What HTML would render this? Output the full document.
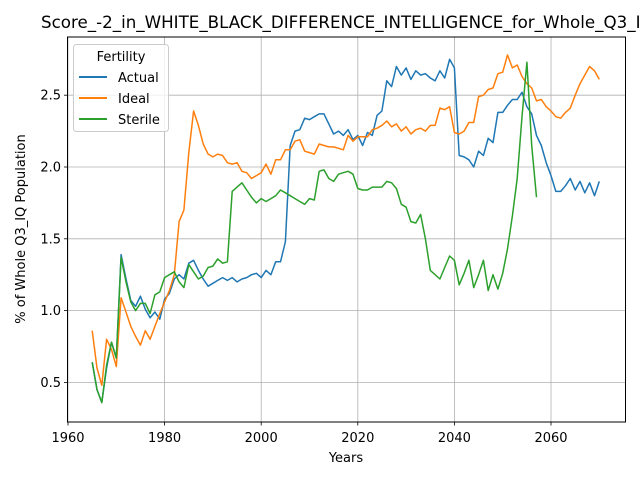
<!DOCTYPE html>
<html><head><meta charset="utf-8"><style>
body{margin:0;background:#fff;}
svg{font-family:"DejaVu Sans","Liberation Sans",sans-serif;}
</style></head><body>
<svg id="chart" width="640" height="480" xmlns="http://www.w3.org/2000/svg">
<rect width="640" height="480" fill="#fff"/>
<g id="grid"></g>
<g id="series"></g>
<rect x="67.5" y="37" width="558" height="385" fill="none" stroke="#000" stroke-width="1"/>
<g id="ticks" font-size="13" fill="#000"></g>
<text x="41" y="28" text-anchor="start" font-size="16.7">Score_-2_in_WHITE_BLACK_DIFFERENCE_INTELLIGENCE_for_Whole_Q3_IQ Population</text>
<text x="346" y="462" text-anchor="middle" font-size="13">Years</text>
<text transform="translate(25,229) rotate(-90)" text-anchor="middle" font-size="13">% of Whole Q3_IQ Population</text>
<g>
<rect x="73.5" y="44.5" width="95" height="87" rx="3" fill="#fff" fill-opacity="0.8" stroke="#ccc"/>
<text x="121" y="61" text-anchor="middle" font-size="13">Fertility</text>
<g><line x1="79" x2="107" y1="77" y2="77" stroke="#1f77b4" stroke-width="2"/><text x="118" y="82" font-size="13">Actual</text></g>
<g><line x1="79" x2="107" y1="98" y2="98" stroke="#ff7f0e" stroke-width="2"/><text x="118" y="103" font-size="13">Ideal</text></g>
<g><line x1="79" x2="107" y1="119" y2="119" stroke="#2ca02c" stroke-width="2"/><text x="118" y="124" font-size="13">Sterile</text></g>
</g>
</svg>
<script>
const startYear = 1965;
const actual = [0.64,0.45,0.36,0.6,0.78,0.67,1.39,1.22,1.07,1.03,1.10,1.01,0.95,0.99,0.94,1.08,1.12,1.22,1.25,1.22,1.33,1.35,1.28,1.22,1.17,1.19,1.21,1.23,1.21,1.23,1.20,1.22,1.23,1.25,1.26,1.23,1.28,1.25,1.34,1.34,1.48,2.15,2.25,2.26,2.34,2.33,2.35,2.37,2.37,2.30,2.23,2.25,2.22,2.26,2.19,2.22,2.15,2.24,2.22,2.36,2.39,2.60,2.56,2.70,2.64,2.69,2.61,2.67,2.64,2.65,2.62,2.60,2.67,2.62,2.75,2.69,2.08,2.07,2.05,2.00,2.11,2.08,2.20,2.17,2.38,2.38,2.43,2.47,2.47,2.52,2.42,2.37,2.22,2.15,2.03,1.94,1.83,1.83,1.87,1.92,1.84,1.90,1.82,1.89,1.80,1.90];
const ideal = [0.86,0.60,0.48,0.80,0.73,0.61,1.09,0.99,0.89,0.82,0.76,0.86,0.80,0.89,0.98,1.06,1.14,1.25,1.62,1.70,2.10,2.39,2.29,2.16,2.09,2.07,2.09,2.08,2.03,2.02,2.03,1.97,1.96,1.92,1.94,1.96,2.02,1.95,2.05,2.05,2.12,2.12,2.18,2.19,2.11,2.10,2.09,2.16,2.15,2.14,2.14,2.13,2.12,2.22,2.18,2.21,2.21,2.21,2.26,2.27,2.29,2.32,2.28,2.30,2.25,2.28,2.23,2.26,2.27,2.25,2.29,2.29,2.41,2.40,2.42,2.24,2.23,2.25,2.31,2.31,2.49,2.50,2.54,2.55,2.65,2.66,2.78,2.69,2.71,2.63,2.58,2.55,2.46,2.47,2.42,2.39,2.35,2.34,2.38,2.41,2.50,2.58,2.64,2.70,2.67,2.61];
const sterile = [0.64,0.45,0.36,0.62,0.78,0.67,1.37,1.20,1.06,1.00,1.05,1.05,0.98,1.11,1.13,1.23,1.25,1.27,1.20,1.16,1.32,1.27,1.22,1.24,1.30,1.31,1.36,1.33,1.34,1.83,1.86,1.89,1.84,1.79,1.75,1.78,1.76,1.78,1.80,1.84,1.82,1.80,1.78,1.76,1.74,1.78,1.77,1.97,1.98,1.92,1.90,1.95,1.96,1.97,1.95,1.85,1.84,1.84,1.86,1.86,1.86,1.90,1.89,1.85,1.74,1.72,1.62,1.61,1.67,1.50,1.28,1.25,1.22,1.30,1.38,1.35,1.18,1.26,1.35,1.16,1.25,1.35,1.14,1.25,1.15,1.26,1.43,1.66,1.92,2.35,2.73,2.15,1.79];
const xTicks = [1960,1980,2000,2020,2040,2060];
const yTicks = [0.5,1.0,1.5,2.0,2.5];

const xs = yr => 68 + (yr - 1960) * 4.83;
const ys = v => 167 - (v - 2.0) * 143.6;
const NS = "http://www.w3.org/2000/svg";
const grid = document.getElementById('grid');
const ticks = document.getElementById('ticks');
const seriesG = document.getElementById('series');
function mk(tag, attrs, parent){const e=document.createElementNS(NS,tag);for(const k in attrs)e.setAttribute(k,attrs[k]);parent.appendChild(e);return e;}
xTicks.forEach(t=>{
  const x=xs(t);
  const g=mk('line',{x1:x,x2:x,y1:37,y2:422,stroke:'#b0b0b0','stroke-width':0.8},grid);
  
  
  mk('line',{x1:x,x2:x,y1:422,y2:425.5,stroke:'#000','stroke-width':0.8},ticks);
  const tx=mk('text',{x:x,y:442,'text-anchor':'middle'},ticks);
  tx.textContent=t;
  
  
});
yTicks.forEach(t=>{
  const y=ys(t);
  const g=mk('line',{x1:67.5,x2:625.5,y1:y,y2:y,stroke:'#b0b0b0','stroke-width':0.8},grid);
  
  
  mk('line',{x1:64,x2:67.5,y1:y,y2:y,stroke:'#000','stroke-width':0.8},ticks);
  const tx=mk('text',{x:61,y:y+4.5,'text-anchor':'end'},ticks);
  tx.textContent=t.toFixed(1);
  
  
});
[[actual,'#1f77b4','actual-line'],[ideal,'#ff7f0e','ideal-line'],[sterile,'#2ca02c','sterile-line']].forEach(([arr,col,name])=>{
  const pts=arr.map((v,i)=>xs(startYear+i).toFixed(1)+','+ys(v).toFixed(1)).join(' ');
  const p=mk('polyline',{points:pts,fill:'none',stroke:col,'stroke-width':1.5,'stroke-linejoin':'round'},seriesG);
  
  
});
</script>
</body></html>
